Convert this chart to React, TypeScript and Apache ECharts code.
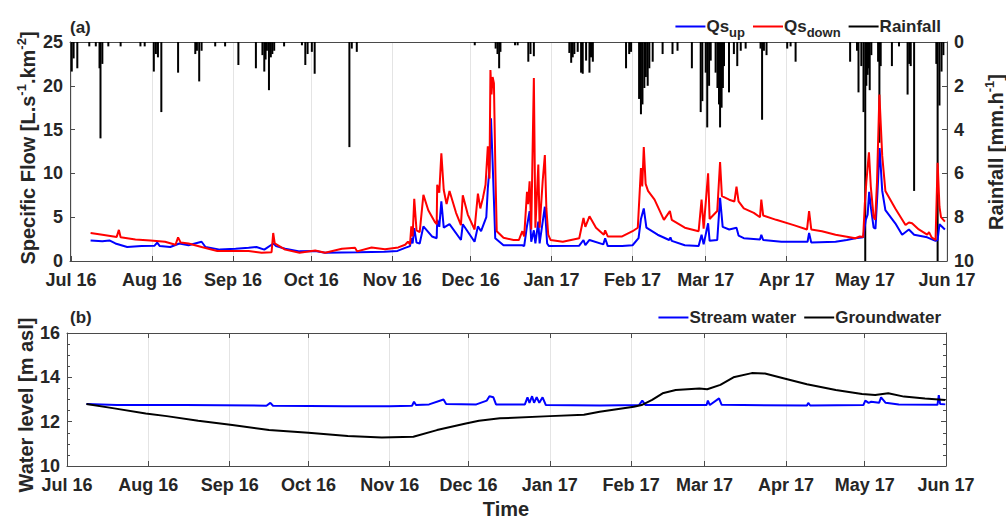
import React, { useEffect, useRef } from 'react';
import * as echarts from 'echarts';

// ---------- DATA ----------
const MONTH_LABELS = ['Jul 16', 'Aug 16', 'Sep 16', 'Oct 16', 'Nov 16', 'Dec 16', 'Jan 17', 'Feb 17', 'Mar 17', 'Apr 17', 'May 17', 'Jun 17'];

const qsUp: [string, number][] = [
  ['2016-07-08 12:00', 2.35], ['2016-07-13 00:00', 2.25], ['2016-07-15 17:00', 2.35], ['2016-07-18 00:00', 2.0],
  ['2016-07-22 12:00', 1.6], ['2016-07-28 00:00', 1.7], ['2016-08-02 00:00', 1.75], ['2016-08-03 00:00', 2.1],
  ['2016-08-04 00:00', 1.7], ['2016-08-08 00:00', 1.6], ['2016-08-11 12:00', 2.0], ['2016-08-15 00:00', 1.8],
  ['2016-08-20 00:00', 2.2], ['2016-08-21 12:00', 1.6], ['2016-08-27 00:00', 1.3], ['2016-09-02 00:00', 1.4],
  ['2016-09-07 00:00', 1.5], ['2016-09-10 00:00', 1.6], ['2016-09-13 00:00', 1.3], ['2016-09-16 12:00', 2.0],
  ['2016-09-17 12:00', 1.7], ['2016-09-21 00:00', 1.4], ['2016-09-26 12:00', 1.1], ['2016-10-02 12:00', 1.15],
  ['2016-10-06 07:00', 0.95], ['2016-10-19 00:00', 1.0], ['2016-10-29 00:00', 1.05], ['2016-11-03 00:00', 1.15],
  ['2016-11-05 22:00', 1.5], ['2016-11-07 19:00', 1.7], ['2016-11-08 07:00', 2.6], ['2016-11-08 19:00', 2.0],
  ['2016-11-09 10:00', 3.75], ['2016-11-10 07:00', 2.1], ['2016-11-11 12:00', 2.0], ['2016-11-12 22:00', 3.95],
  ['2016-11-16 05:00', 2.8], ['2016-11-18 00:00', 2.6], ['2016-11-18 05:00', 4.7], ['2016-11-19 00:00', 3.9],
  ['2016-11-19 19:00', 6.8], ['2016-11-20 17:00', 3.8], ['2016-11-22 22:00', 4.2], ['2016-11-27 07:00', 2.4],
  ['2016-11-28 00:00', 4.2], ['2016-12-02 12:00', 2.2], ['2016-12-03 19:00', 3.95], ['2016-12-05 00:00', 3.4],
  ['2016-12-07 00:00', 5.0], ['2016-12-07 14:00', 8.3], ['2016-12-08 05:00', 10.5], ['2016-12-08 19:00', 16.3],
  ['2016-12-09 10:00', 11.3], ['2016-12-10 10:00', 2.6], ['2016-12-13 14:00', 1.8], ['2016-12-20 19:00', 1.8],
  ['2016-12-21 12:00', 1.7], ['2016-12-22 14:00', 4.0], ['2016-12-23 14:00', 5.7], ['2016-12-24 05:00', 2.2],
  ['2016-12-25 05:00', 3.5], ['2016-12-25 19:00', 2.0], ['2016-12-26 22:00', 4.5], ['2016-12-27 10:00', 2.0],
  ['2016-12-29 10:00', 6.2], ['2016-12-30 07:00', 2.0], ['2016-12-31 00:00', 1.7], ['2017-01-11 14:00', 1.75],
  ['2017-01-13 05:00', 2.4], ['2017-01-13 22:00', 1.8], ['2017-01-15 12:00', 2.4], ['2017-01-20 19:00', 1.9],
  ['2017-01-21 12:00', 2.6], ['2017-01-22 12:00', 1.7], ['2017-01-28 00:00', 1.7], ['2017-02-01 00:00', 1.8],
  ['2017-02-03 07:00', 2.6], ['2017-02-04 05:00', 4.8], ['2017-02-05 07:00', 6.0], ['2017-02-06 07:00', 3.8],
  ['2017-02-10 14:00', 3.0], ['2017-02-15 00:00', 2.4], ['2017-02-15 12:00', 2.7], ['2017-02-16 00:00', 2.3],
  ['2017-02-21 00:00', 1.8], ['2017-02-26 07:00', 1.7], ['2017-02-27 10:00', 3.0], ['2017-02-28 05:00', 1.9],
  ['2017-03-01 22:00', 4.3], ['2017-03-02 12:00', 2.3], ['2017-03-05 10:00', 2.4], ['2017-03-06 12:00', 7.2],
  ['2017-03-07 12:00', 3.9], ['2017-03-10 00:00', 3.6], ['2017-03-12 19:00', 3.8], ['2017-03-13 14:00', 2.9],
  ['2017-03-15 14:00', 2.6], ['2017-03-21 19:00', 2.45], ['2017-03-22 07:00', 3.0], ['2017-03-23 00:00', 2.4],
  ['2017-03-30 00:00', 2.2], ['2017-04-09 00:00', 2.2], ['2017-04-09 14:00', 3.2], ['2017-04-10 10:00', 2.1],
  ['2017-04-19 17:00', 2.2], ['2017-04-24 00:00', 2.4], ['2017-04-27 07:00', 2.6], ['2017-04-30 07:00', 2.7],
  ['2017-05-01 07:00', 4.7], ['2017-05-02 00:00', 5.3], ['2017-05-02 14:00', 7.9], ['2017-05-03 07:00', 6.0],
  ['2017-05-04 07:00', 3.8], ['2017-05-05 00:00', 3.7], ['2017-05-05 19:00', 8.0], ['2017-05-06 14:00', 12.9],
  ['2017-05-07 14:00', 8.0], ['2017-05-08 19:00', 5.8], ['2017-05-12 14:00', 4.3], ['2017-05-15 05:00', 3.0],
  ['2017-05-17 19:00', 3.6], ['2017-05-19 19:00', 3.0], ['2017-05-24 19:00', 2.7], ['2017-05-28 00:00', 2.3],
  ['2017-05-28 19:00', 2.4], ['2017-05-29 12:00', 4.2], ['2017-05-31 14:00', 3.6],
];

const qsDown: [string, number][] = [
  ['2016-07-08 12:00', 3.2], ['2016-07-13 00:00', 3.0], ['2016-07-18 12:00', 2.75], ['2016-07-19 08:00', 3.55],
  ['2016-07-20 00:00', 2.7], ['2016-07-25 16:00', 2.45], ['2016-07-31 10:00', 2.35], ['2016-08-06 00:00', 2.2],
  ['2016-08-10 00:00', 1.85], ['2016-08-11 00:00', 2.7], ['2016-08-12 00:00', 2.1], ['2016-08-15 00:00', 2.0],
  ['2016-08-20 00:00', 1.6], ['2016-08-26 00:00', 1.15], ['2016-09-02 00:00', 1.15], ['2016-09-07 00:00', 1.15],
  ['2016-09-12 00:00', 0.95], ['2016-09-15 19:00', 1.0], ['2016-09-16 10:00', 3.2], ['2016-09-17 00:00', 2.0],
  ['2016-09-21 00:00', 1.3], ['2016-09-26 12:00', 0.95], ['2016-10-02 12:00', 1.2], ['2016-10-06 07:00', 0.95],
  ['2016-10-12 17:00', 1.4], ['2016-10-17 19:00', 1.5], ['2016-10-18 12:00', 1.1], ['2016-10-24 02:00', 1.55],
  ['2016-10-29 05:00', 1.35], ['2016-11-03 07:00', 1.55], ['2016-11-05 22:00', 1.85], ['2016-11-07 00:00', 2.2],
  ['2016-11-07 19:00', 1.9], ['2016-11-08 07:00', 3.95], ['2016-11-08 19:00', 2.8], ['2016-11-09 10:00', 7.1],
  ['2016-11-10 07:00', 3.5], ['2016-11-11 12:00', 3.3], ['2016-11-12 22:00', 7.55], ['2016-11-14 19:00', 5.8],
  ['2016-11-17 10:00', 4.4], ['2016-11-18 00:00', 4.2], ['2016-11-18 05:00', 8.7], ['2016-11-19 00:00', 7.8],
  ['2016-11-19 19:00', 12.3], ['2016-11-20 17:00', 8.1], ['2016-11-21 19:00', 6.5], ['2016-11-22 22:00', 8.0],
  ['2016-11-25 10:00', 5.5], ['2016-11-27 07:00', 4.1], ['2016-11-28 00:00', 7.5], ['2016-11-29 22:00', 5.3],
  ['2016-12-02 12:00', 3.6], ['2016-12-03 19:00', 7.7], ['2016-12-04 17:00', 6.0], ['2016-12-05 17:00', 7.2],
  ['2016-12-06 17:00', 8.7], ['2016-12-07 14:00', 13.1], ['2016-12-08 05:00', 9.4], ['2016-12-08 14:00', 21.8],
  ['2016-12-09 00:00', 19.0], ['2016-12-09 10:00', 21.0], ['2016-12-09 22:00', 20.3], ['2016-12-10 12:00', 10.0],
  ['2016-12-11 00:00', 3.4], ['2016-12-13 14:00', 2.65], ['2016-12-17 10:00', 2.4], ['2016-12-19 12:00', 2.4],
  ['2016-12-20 19:00', 3.4], ['2016-12-21 12:00', 2.8], ['2016-12-22 14:00', 7.9], ['2016-12-23 00:00', 6.5],
  ['2016-12-23 14:00', 9.1], ['2016-12-24 05:00', 3.6], ['2016-12-25 05:00', 20.9], ['2016-12-25 19:00', 3.8],
  ['2016-12-26 22:00', 11.0], ['2016-12-27 10:00', 3.8], ['2016-12-28 14:00', 9.1], ['2016-12-29 10:00', 12.1],
  ['2016-12-30 00:00', 6.0], ['2016-12-30 17:00', 3.0], ['2016-12-31 14:00', 2.4], ['2017-01-05 07:00', 2.2],
  ['2017-01-11 14:00', 2.6], ['2017-01-13 05:00', 4.9], ['2017-01-13 22:00', 3.9], ['2017-01-15 12:00', 5.1],
  ['2017-01-18 00:00', 3.8], ['2017-01-21 00:00', 3.0], ['2017-01-21 12:00', 3.5], ['2017-01-22 12:00', 2.8],
  ['2017-01-28 00:00', 2.8], ['2017-02-01 00:00', 3.4], ['2017-02-03 00:00', 3.8], ['2017-02-04 05:00', 10.6],
  ['2017-02-04 17:00', 8.5], ['2017-02-05 07:00', 13.0], ['2017-02-06 00:00', 8.8], ['2017-02-06 22:00', 8.0],
  ['2017-02-09 10:00', 7.0], ['2017-02-13 00:00', 4.7], ['2017-02-15 07:00', 5.7], ['2017-02-16 00:00', 4.7],
  ['2017-02-21 00:00', 3.8], ['2017-02-26 07:00', 3.4], ['2017-02-27 10:00', 7.0], ['2017-02-28 05:00', 3.7],
  ['2017-03-01 22:00', 10.0], ['2017-03-02 12:00', 4.8], ['2017-03-05 10:00', 5.7], ['2017-03-06 12:00', 11.3],
  ['2017-03-07 05:00', 7.4], ['2017-03-10 00:00', 7.0], ['2017-03-12 00:00', 6.8], ['2017-03-12 19:00', 8.5],
  ['2017-03-13 14:00', 6.8], ['2017-03-15 14:00', 6.0], ['2017-03-19 10:00', 5.5], ['2017-03-21 19:00', 5.0],
  ['2017-03-22 07:00', 7.0], ['2017-03-23 00:00', 5.2], ['2017-03-28 00:00', 4.7], ['2017-04-03 17:00', 4.1],
  ['2017-04-08 19:00', 3.6], ['2017-04-09 14:00', 5.7], ['2017-04-10 10:00', 3.6], ['2017-04-14 12:00', 3.4],
  ['2017-04-19 17:00', 3.0], ['2017-04-27 07:00', 2.6], ['2017-04-29 00:00', 2.8], ['2017-04-30 07:00', 2.75],
  ['2017-04-30 22:00', 6.5], ['2017-05-01 12:00', 9.0], ['2017-05-02 12:00', 12.4], ['2017-05-03 05:00', 8.5],
  ['2017-05-04 07:00', 5.0], ['2017-05-04 22:00', 4.7], ['2017-05-05 14:00', 9.0], ['2017-05-06 12:00', 19.0],
  ['2017-05-07 14:00', 12.0], ['2017-05-08 19:00', 8.0], ['2017-05-12 14:00', 6.0], ['2017-05-16 12:00', 4.1],
  ['2017-05-17 19:00', 4.4], ['2017-05-19 00:00', 4.3], ['2017-05-21 14:00', 3.6], ['2017-05-24 19:00', 3.0],
  ['2017-05-25 12:00', 3.3], ['2017-05-26 12:00', 2.7], ['2017-05-28 00:00', 2.4], ['2017-05-28 19:00', 11.2],
  ['2017-05-29 12:00', 6.2], ['2017-05-30 02:00', 5.0], ['2017-05-31 14:00', 4.5],
];

const rainfall: [string, number][] = [
  ['2016-07-01 07:00', 1.35], ['2016-07-02 00:00', 0.75], ['2016-07-03 10:00', 1.2], ['2016-07-08 00:00', 0.2],
  ['2016-07-10 12:00', 0.2], ['2016-07-11 22:00', 1.2], ['2016-07-12 07:00', 4.4], ['2016-07-13 00:00', 1.0],
  ['2016-07-15 07:00', 0.2], ['2016-07-20 00:00', 0.2], ['2016-07-27 14:00', 0.2], ['2016-07-29 05:00', 0.2],
  ['2016-08-01 17:00', 1.35], ['2016-08-02 12:00', 0.55], ['2016-08-03 07:00', 0.7], ['2016-08-04 14:00', 3.2],
  ['2016-08-11 00:00', 1.4], ['2016-08-17 14:00', 0.55], ['2016-08-18 05:00', 0.4], ['2016-08-19 02:00', 1.8],
  ['2016-08-20 00:00', 0.4], ['2016-08-25 05:00', 0.2], ['2016-08-29 00:00', 0.2], ['2016-09-03 02:00', 1.05],
  ['2016-09-09 19:00', 1.2], ['2016-09-12 07:00', 0.6], ['2016-09-13 00:00', 1.35], ['2016-09-13 12:00', 0.8],
  ['2016-09-14 00:00', 0.4], ['2016-09-14 19:00', 2.2], ['2016-09-15 12:00', 0.7], ['2016-09-16 02:00', 0.55],
  ['2016-09-16 19:00', 0.4], ['2016-09-20 14:00', 0.2], ['2016-09-27 10:00', 0.15], ['2016-09-28 17:00', 1.05],
  ['2016-09-29 14:00', 0.55], ['2016-10-01 05:00', 0.45], ['2016-10-02 07:00', 1.45], ['2016-10-15 14:00', 4.8],
  ['2016-10-16 12:00', 0.3], ['2016-10-18 10:00', 0.45], ['2016-12-02 14:00', 0.15], ['2016-12-10 14:00', 0.3],
  ['2016-12-11 07:00', 0.55], ['2016-12-11 22:00', 1.2], ['2016-12-12 10:00', 0.45], ['2016-12-18 00:00', 0.15],
  ['2016-12-19 00:00', 0.15], ['2016-12-23 02:00', 0.9], ['2016-12-23 22:00', 0.55], ['2016-12-25 05:00', 0.65],
  ['2017-01-07 19:00', 0.5], ['2017-01-08 12:00', 0.95], ['2017-01-09 02:00', 0.7], ['2017-01-09 17:00', 0.55],
  ['2017-01-11 00:00', 0.45], ['2017-01-12 07:00', 1.4], ['2017-01-12 22:00', 1.45], ['2017-01-14 05:00', 0.85],
  ['2017-01-15 12:00', 1.4], ['2017-01-16 02:00', 0.7], ['2017-01-16 19:00', 0.9], ['2017-01-29 12:00', 1.2],
  ['2017-01-30 17:00', 0.55], ['2017-01-31 10:00', 0.45], ['2017-02-03 12:00', 2.6], ['2017-02-04 05:00', 3.3],
  ['2017-02-04 19:00', 2.85], ['2017-02-05 12:00', 2.1], ['2017-02-06 02:00', 1.6], ['2017-02-06 19:00', 2.0],
  ['2017-02-07 10:00', 1.2], ['2017-02-08 17:00', 0.9], ['2017-02-12 12:00', 0.55], ['2017-02-16 07:00', 0.55],
  ['2017-02-18 05:00', 0.4], ['2017-02-23 17:00', 1.2], ['2017-02-27 02:00', 3.2], ['2017-02-27 17:00', 2.7],
  ['2017-03-01 00:00', 1.4], ['2017-03-01 14:00', 3.9], ['2017-03-02 07:00', 2.0], ['2017-03-02 22:00', 0.85],
  ['2017-03-04 19:00', 1.4], ['2017-03-05 12:00', 2.1], ['2017-03-06 02:00', 2.85], ['2017-03-06 12:00', 3.9],
  ['2017-03-07 02:00', 3.0], ['2017-03-07 14:00', 2.1], ['2017-03-08 00:00', 1.1], ['2017-03-09 22:00', 2.3],
  ['2017-03-11 19:00', 0.55], ['2017-03-13 02:00', 1.1], ['2017-03-14 10:00', 0.4], ['2017-03-16 07:00', 0.3],
  ['2017-03-22 00:00', 0.3], ['2017-03-22 14:00', 3.55], ['2017-03-23 07:00', 0.4], ['2017-03-24 07:00', 0.6],
  ['2017-04-01 05:00', 0.3], ['2017-04-02 12:00', 0.2], ['2017-04-04 10:00', 0.9], ['2017-04-25 07:00', 0.9],
  ['2017-04-27 22:00', 0.4], ['2017-04-28 12:00', 2.3], ['2017-04-29 14:00', 1.1], ['2017-04-30 10:00', 3.2],
  ['2017-05-01 02:00', 10.5], ['2017-05-01 12:00', 2.0], ['2017-05-02 00:00', 1.5], ['2017-05-02 10:00', 1.2],
  ['2017-05-02 19:00', 2.2], ['2017-05-03 10:00', 0.6], ['2017-05-06 00:00', 0.9], ['2017-05-06 12:00', 4.6],
  ['2017-05-07 00:00', 1.1], ['2017-05-11 07:00', 1.1], ['2017-05-14 00:00', 0.2], ['2017-05-17 07:00', 2.4],
  ['2017-05-17 22:00', 1.0], ['2017-05-18 12:00', 1.1], ['2017-05-19 19:00', 6.8], ['2017-05-28 07:00', 1.0],
  ['2017-05-28 19:00', 10.5], ['2017-05-29 12:00', 2.9], ['2017-05-30 07:00', 1.35], ['2017-05-31 00:00', 0.6],
];

const streamWater: [string, number][] = [
  ['2016-07-08 10:00', 12.8], ['2016-07-20 00:00', 12.75], ['2016-08-15 00:00', 12.75], ['2016-09-15 00:00', 12.72],
  ['2016-09-16 12:00', 12.85], ['2016-09-17 12:00', 12.72], ['2016-10-15 00:00', 12.7], ['2016-11-01 00:00', 12.7],
  ['2016-11-09 12:00', 12.72], ['2016-11-10 06:00', 12.9], ['2016-11-11 00:00', 12.75], ['2016-11-16 00:00', 12.78],
  ['2016-11-21 12:00', 13.0], ['2016-11-22 12:00', 12.8], ['2016-12-04 00:00', 12.78], ['2016-12-08 00:00', 12.95],
  ['2016-12-09 00:00', 13.15], ['2016-12-10 12:00', 13.1], ['2016-12-11 12:00', 12.78], ['2016-12-22 12:00', 12.78],
  ['2016-12-23 12:00', 13.1], ['2016-12-24 06:00', 12.85], ['2016-12-25 06:00', 13.15], ['2016-12-26 00:00', 12.85],
  ['2016-12-27 00:00', 13.1], ['2016-12-28 00:00', 12.85], ['2016-12-29 06:00', 13.1], ['2016-12-30 12:00', 12.75],
  ['2017-01-20 00:00', 12.73], ['2017-02-04 00:00', 12.75], ['2017-02-05 06:00', 12.95], ['2017-02-06 12:00', 12.75],
  ['2017-03-01 18:00', 12.75], ['2017-03-02 06:00', 12.95], ['2017-03-03 00:00', 12.75], ['2017-03-06 12:00', 13.05],
  ['2017-03-07 12:00', 12.76], ['2017-04-09 00:00', 12.73], ['2017-04-09 12:00', 12.85], ['2017-04-10 06:00', 12.73],
  ['2017-04-30 12:00', 12.75], ['2017-05-01 06:00', 12.95], ['2017-05-02 12:00', 12.85], ['2017-05-03 12:00', 12.9],
  ['2017-05-06 12:00', 12.85], ['2017-05-07 06:00', 13.1], ['2017-05-09 00:00', 12.85], ['2017-05-14 00:00', 12.77],
  ['2017-05-28 18:00', 12.76], ['2017-05-29 06:00', 13.2], ['2017-05-29 18:00', 12.8], ['2017-05-31 18:00', 12.78],
];

const groundwater: [string, number][] = [
  ['2016-07-08 10:00', 12.8], ['2016-07-19 00:00', 12.6], ['2016-07-31 00:00', 12.37], ['2016-08-08 00:00', 12.25],
  ['2016-08-20 00:00', 12.04], ['2016-09-02 00:00', 11.85], ['2016-09-16 00:00', 11.62], ['2016-10-01 00:00', 11.5],
  ['2016-10-16 00:00', 11.35], ['2016-10-29 00:00', 11.29], ['2016-11-10 00:00', 11.32], ['2016-11-19 00:00', 11.62],
  ['2016-11-30 00:00', 11.92], ['2016-12-05 00:00', 12.04], ['2016-12-13 00:00', 12.15], ['2017-01-01 00:00', 12.25],
  ['2017-01-14 00:00', 12.31], ['2017-01-20 00:00', 12.45], ['2017-02-02 00:00', 12.67], ['2017-02-05 00:00', 12.75],
  ['2017-02-09 00:00', 12.98], ['2017-02-13 00:00', 13.28], ['2017-02-18 00:00', 13.43], ['2017-02-27 00:00', 13.5],
  ['2017-03-02 00:00', 13.46], ['2017-03-07 00:00', 13.66], ['2017-03-12 00:00', 14.0], ['2017-03-19 00:00', 14.19],
  ['2017-03-24 00:00', 14.17], ['2017-03-31 00:00', 13.96], ['2017-04-09 00:00', 13.69], ['2017-04-20 00:00', 13.43],
  ['2017-04-30 00:00', 13.25], ['2017-05-05 00:00', 13.2], ['2017-05-10 00:00', 13.28], ['2017-05-16 00:00', 13.13],
  ['2017-05-24 00:00', 13.05], ['2017-05-31 18:00', 12.98],
];

// ---------- STYLE ----------
const FONT = "'Liberation Sans', Arial, Helvetica, sans-serif";
const TXT = '#262626';
const AX = '#4a4a4a';
const GRIDLINE = '#e4e4e4';
const X_MIN = new Date(2016, 6, 1).getTime();
const X_MAX = new Date(2017, 5, 1).getTime();
const DAY = 86400000;

const monthFmt = (v: number) => {
  const d = new Date(v);
  const i = (d.getFullYear() - 2016) * 12 + d.getMonth() - 6;
  return MONTH_LABELS[i] ?? '';
};

const bottomX = (gridIndex: number, margin: number) => ({
  type: 'time',
  gridIndex,
  position: 'bottom',
  min: X_MIN,
  max: X_MAX,
  minInterval: 28 * DAY,
  maxInterval: 31 * DAY,
  splitNumber: 11,
  axisLine: { show: true, onZero: false, lineStyle: { color: AX, width: 1 } },
  axisTick: { show: true, inside: true, length: 5, lineStyle: { color: AX } },
  axisLabel: {
    formatter: monthFmt, color: TXT, fontSize: 18, fontWeight: 'bold', fontFamily: FONT,
    margin, hideOverlap: false, showMinLabel: true, showMaxLabel: true,
  },
  splitLine: { show: true, lineStyle: { color: GRIDLINE, width: 1 } },
});

const topX = (gridIndex: number, ticks: boolean) => ({
  type: 'time',
  gridIndex,
  position: 'top',
  min: X_MIN,
  max: X_MAX,
  minInterval: 28 * DAY,
  maxInterval: 31 * DAY,
  splitNumber: 11,
  axisLine: { show: true, onZero: false, lineStyle: { color: AX, width: 1 } },
  axisTick: { show: ticks, inside: true, length: 5, lineStyle: { color: AX } },
  axisLabel: { show: false },
  splitLine: { show: false },
});

const yLabel = { color: TXT, fontSize: 18, fontWeight: 'bold', fontFamily: FONT, margin: 7 };

const legendRich = {
  q: { fontSize: 17, fontWeight: 'bold', fontFamily: FONT, color: TXT, lineHeight: 24 },
  s: { fontSize: 13, fontWeight: 'bold', fontFamily: FONT, color: TXT, verticalAlign: 'bottom' },
};

const titleRich = {
  m: { fontSize: 20, fontWeight: 'bold', fontFamily: FONT, fill: TXT, lineHeight: 26 },
  p: { fontSize: 13, fontWeight: 'bold', fontFamily: FONT, fill: TXT, verticalAlign: 'top' },
};

export default function App() {
  const ref = useRef<HTMLDivElement>(null);

  useEffect(() => {
    if (!ref.current) return;
    const chart = echarts.init(ref.current, null, { renderer: 'svg' });
    const option: any = {
      animation: false,
      backgroundColor: '#ffffff',
      textStyle: { fontFamily: FONT },
      grid: [
        { left: 70, right: 59, top: 42, height: 219 },
        { left: 67, right: 60, top: 333, height: 133 },
      ],
      xAxis: [bottomX(0, 10), topX(0, false), bottomX(1, 10), topX(1, true)],
      yAxis: [
        {
          type: 'value', gridIndex: 0, position: 'left', min: 0, max: 25, interval: 5,
          axisLine: { show: true, lineStyle: { color: AX } },
          axisTick: { show: true, inside: true, length: 5, lineStyle: { color: AX } },
          axisLabel: yLabel, splitLine: { show: false },
        },
        {
          type: 'value', gridIndex: 0, position: 'right', min: 0, max: 10, interval: 2, inverse: true,
          axisLine: { show: true, lineStyle: { color: AX } },
          axisTick: { show: true, inside: true, length: 5, lineStyle: { color: AX } },
          axisLabel: yLabel, splitLine: { show: false },
        },
        {
          type: 'value', gridIndex: 1, position: 'left', min: 10, max: 16, interval: 2,
          axisLine: { show: true, lineStyle: { color: AX } },
          axisTick: { show: true, inside: true, length: 5, lineStyle: { color: AX } },
          minorTick: { show: true, splitNumber: 4, length: 3, lineStyle: { color: AX } },
          axisLabel: yLabel, splitLine: { show: false },
        },
        {
          type: 'value', gridIndex: 1, position: 'right', min: 10, max: 16, interval: 2,
          axisLine: { show: true, lineStyle: { color: AX } },
          axisTick: { show: true, inside: true, length: 5, lineStyle: { color: AX } },
          minorTick: { show: true, splitNumber: 4, length: 3, lineStyle: { color: AX } },
          axisLabel: { show: false }, splitLine: { show: false },
        },
      ],
      legend: [
        {
          data: ['Qs_up', 'Qs_down', 'Rainfall'],
          right: 60, top: 13, icon: 'rect', itemWidth: 30, itemHeight: 2, itemGap: 8,
          formatter: (n: string) => n === 'Qs_up' ? '{q|Qs}{s|up}' : n === 'Qs_down' ? '{q|Qs}{s|down}' : `{q|${n}}`,
          textStyle: { rich: legendRich, padding: [0, 0, 0, -4] },
        },
        {
          data: ['Stream water', 'Groundwater'],
          right: 60, top: 304, icon: 'rect', itemWidth: 30, itemHeight: 2, itemGap: 8,
          formatter: (n: string) => `{q|${n}}`,
          textStyle: { rich: legendRich, padding: [0, 0, 0, -4] },
        },
      ],
      series: [
        { name: 'Qs_up', type: 'line', xAxisIndex: 0, yAxisIndex: 0, data: qsUp, showSymbol: false, symbol: 'none',
          lineStyle: { color: '#0000ff', width: 2 }, itemStyle: { color: '#0000ff' } },
        { name: 'Qs_down', type: 'line', xAxisIndex: 0, yAxisIndex: 0, data: qsDown, showSymbol: false, symbol: 'none',
          lineStyle: { color: '#ff0000', width: 2 }, itemStyle: { color: '#ff0000' } },
        { name: 'Rainfall', type: 'bar', xAxisIndex: 0, yAxisIndex: 1, data: rainfall, barWidth: 2, barGap: '-100%',
          clip: true, itemStyle: { color: '#000000' } },
        { name: 'Stream water', type: 'line', xAxisIndex: 2, yAxisIndex: 2, data: streamWater, showSymbol: false, symbol: 'none',
          lineStyle: { color: '#0000ff', width: 2 }, itemStyle: { color: '#0000ff' } },
        { name: 'Groundwater', type: 'line', xAxisIndex: 2, yAxisIndex: 2, data: groundwater, showSymbol: false, symbol: 'none',
          lineStyle: { color: '#000000', width: 2 }, itemStyle: { color: '#000000' } },
      ],
      graphic: [
        { type: 'text', left: 70, top: 19, style: { text: '(a)', fontSize: 17, fontWeight: 'bold', fontFamily: FONT, fill: TXT } },
        { type: 'text', left: 70, top: 309, style: { text: '(b)', fontSize: 17, fontWeight: 'bold', fontFamily: FONT, fill: TXT } },
        { type: 'text', x: 28, y: 148, rotation: Math.PI / 2,
          style: { text: '{m|Specific Flow [L.s}{p|-1}{m|.km}{p|-2}{m|]}', rich: titleRich, align: 'center', verticalAlign: 'middle' } },
        { type: 'text', x: 996, y: 152, rotation: Math.PI / 2,
          style: { text: '{m|Rainfall [mm.h}{p|-1}{m|]}', rich: titleRich, align: 'center', verticalAlign: 'middle' } },
        { type: 'text', x: 26, y: 405, rotation: Math.PI / 2,
          style: { text: 'Water level [m asl]', fontSize: 20, fontWeight: 'bold', fontFamily: FONT, fill: TXT, align: 'center', verticalAlign: 'middle' } },
        { type: 'text', x: 506, y: 509,
          style: { text: 'Time', fontSize: 20, fontWeight: 'bold', fontFamily: FONT, fill: TXT, align: 'center', verticalAlign: 'middle' } },
      ],
    };
    chart.setOption(option);
    return () => chart.dispose();
  }, []);

  return <div ref={ref} style={{ position: 'fixed', left: 0, top: 0, width: 1006, height: 519 }} />;
}
